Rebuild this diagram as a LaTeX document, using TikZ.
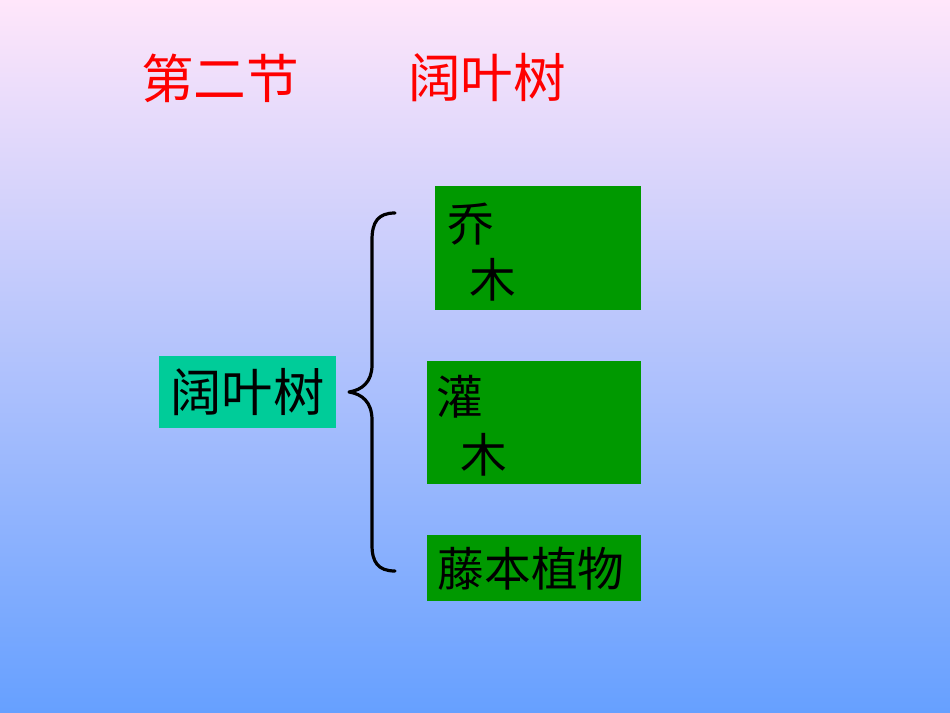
\documentclass[tikz,border=0pt]{standalone}
\usepackage{fontspec}
\newfontfamily\cjk{Noto Sans CJK SC}
\definecolor{bgtop}{RGB}{255,230,250}
\definecolor{bgmid}{RGB}{196,204,248}
\definecolor{bgbot}{RGB}{102,160,255}
\definecolor{boxgreen}{RGB}{0,153,0}
\definecolor{boxteal}{RGB}{0,204,153}
\tikzset{
  greenbox/.style={fill=boxgreen, draw=none, inner sep=0pt},
  titletext/.style={text=red, font=\cjk\fontsize{39.5}{42}\selectfont, inner sep=0pt},
  boxtext/.style={text=black, font=\cjk\fontsize{35}{38}\selectfont, inner sep=0pt},
  bracepath/.style={line width=2.4pt, line cap=round, line join=round}
}
\begin{document}
\begin{tikzpicture}[x=0.75pt,y=-0.75pt]
\shade[top color=bgtop, middle color=bgmid, bottom color=bgbot] (0,0) rectangle (950,713);
\useasboundingbox (0,0) rectangle (950,713);
% title
\node[titletext, anchor=west] (t1) at (141,78) {第二节};
\node[titletext, anchor=west] (t2) at (408,78) {阔叶树};
% left box
\node[fill=boxteal, inner sep=0pt, minimum width=132.75pt, minimum height=54pt,
      text=black, font=\cjk\fontsize{38.5}{40}\selectfont] (lb) at (247.5,392) {阔叶树};
% brace
\draw[bracepath] (395,213) .. controls (378,213) and (372,222) .. (372,240)
  -- (372,365) .. controls (372,382) and (362,390) .. (349,392)
  .. controls (362,394) and (372,402) .. (372,420)
  -- (372,545) .. controls (372,562) and (378,571) .. (395,571);
% box 1
\node[greenbox, minimum width=154.5pt, minimum height=93pt] (b1) at (538,248) {};
\node[boxtext] (b1a) at (471,224) {乔};
\node[boxtext] (b1b) at (493,280) {木};
% box 2
\node[greenbox, minimum width=160.5pt, minimum height=92.25pt] (b2) at (534,422.5) {};
\node[boxtext] (b2a) at (460,397) {灌};
\node[boxtext] (b2b) at (484,455) {木};
% box 3
\node[greenbox, minimum width=160.5pt, minimum height=49.5pt] (b3) at (534,568) {};
\node[boxtext] (b3a) at (531,569) {藤本植物};
\end{tikzpicture}
\end{document}
